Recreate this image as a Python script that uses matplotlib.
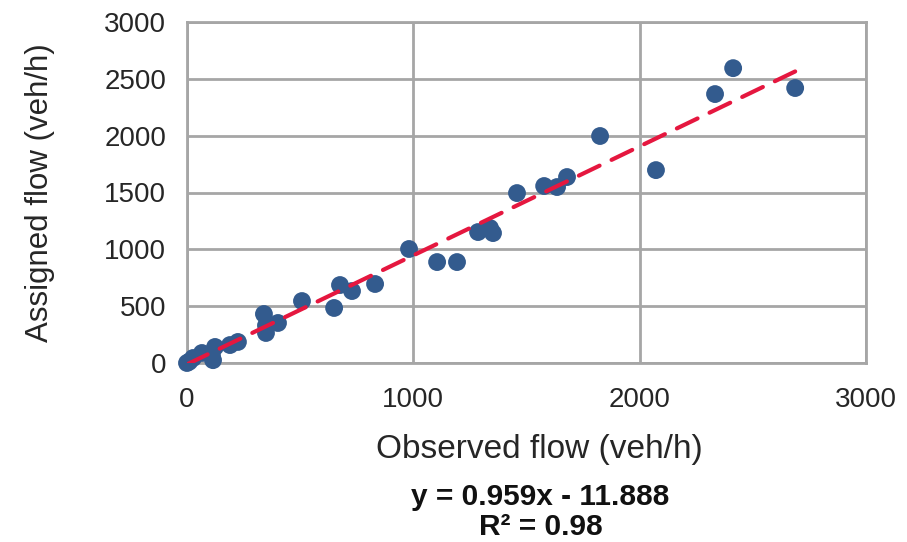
import matplotlib

matplotlib.use("Agg")
import matplotlib.pyplot as plt
import numpy as np

# observed vs assigned link flows (veh/h)
observed = [0, 10, 27, 66, 110, 115, 124, 190, 225,
            340, 349, 349, 402, 508, 650, 676, 729, 831,
            981, 1105, 1193, 1286, 1339, 1352,
            1458, 1578, 1635, 1679, 1825, 2072, 2333, 2413, 2687]
assigned = [0, 12, 44, 88, 70, 25, 141, 158, 185,
            431, 330, 264, 352, 545, 484, 686, 633, 695,
            1003, 888, 888, 1152, 1187, 1143,
            1495, 1557, 1548, 1636, 1997, 1697, 2366, 2594, 2419]

slope = 0.959
intercept = -11.888
r2 = 0.98

ticks = [0, 1000, 2000, 3000]
yticks = [0, 500, 1000, 1500, 2000, 2500, 3000]

plt.rcParams["font.family"] = ["Liberation Sans", "DejaVu Sans"]

GRID = "#A6A6A6"
DOT = "#335B8E"
TREND = "#E5173F"

fig = plt.figure(figsize=(9.07, 5.42), dpi=100)
ax = fig.add_axes([187 / 907, 1 - 363 / 542, 679 / 907, 341 / 542])

ax.scatter(observed, assigned, s=165, color=DOT, edgecolors="none", zorder=3, clip_on=False)

xs = np.array([min(observed), max(observed)])
ax.plot(xs, slope * xs + intercept, color=TREND, lw=3, dashes=(5.5, 3.2),
        dash_capstyle="round", zorder=4)

ax.set_xlim(0, 3000)
ax.set_ylim(0, 3000)
ax.set_xticks(ticks)
ax.set_yticks(yticks)
ax.tick_params(length=0, labelsize=20, colors="#262626")
ax.tick_params(axis="x", pad=17)
ax.tick_params(axis="y", pad=15)
ax.grid(True, color=GRID, lw=2)
ax.set_axisbelow(True)
for sp in ax.spines.values():
    sp.set_color(GRID)
    sp.set_linewidth(2)

ax.set_xlabel("Observed flow (veh/h)", fontsize=24, color="#262626")
ax.xaxis.set_label_coords((539 - 187) / 679, (363 - 434) / 341)
ax.set_ylabel("Assigned flow (veh/h)", fontsize=22.5, color="#262626")
ax.yaxis.set_label_coords((55 - 187) / 679, 0.5)

fig.text(540 / 907, 1 - 497 / 542, f"y = {slope:.3f}x - {abs(intercept):.3f}",
         ha="center", va="center", fontsize=21.5, fontweight="bold", color="#111111")
fig.text(541 / 907, 1 - 527 / 542, f"R² = {r2:.2f}",
         ha="center", va="center", fontsize=21.5, fontweight="bold", color="#111111")

fig.savefig("out.png", dpi=100)
